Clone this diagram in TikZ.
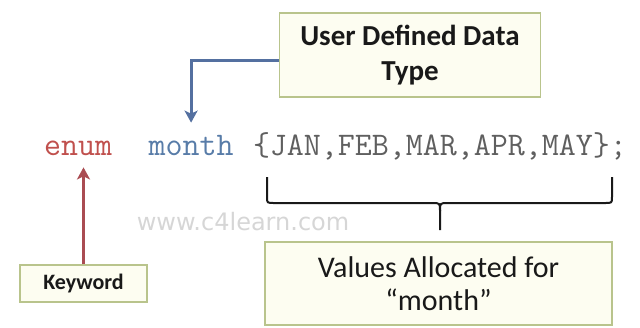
\documentclass[tikz,border=0pt]{standalone}
\usepackage{fontspec}
\setmainfont{Carlito}
\newfontfamily\markfont{DejaVu Sans}
\usetikzlibrary{arrows.meta}

\definecolor{boxline}{RGB}{185,196,140}
\definecolor{boxfill}{RGB}{253,253,241}
\definecolor{kwred}{RGB}{192,80,77}
\definecolor{idblue}{RGB}{88,124,168}
\definecolor{valgrey}{RGB}{95,95,95}
\definecolor{arrblue}{RGB}{84,112,160}
\definecolor{arrred}{RGB}{170,76,82}
\definecolor{markgrey}{RGB}{214,214,214}

\tikzset{
  notebox/.style={draw=boxline, fill=boxfill, line width=1.5pt, align=center,
    inner sep=0pt, text=black!90},
  codetext/.style={inner sep=0pt, anchor=base west,
    font=\ttfamily\fontsize{33}{33}\selectfont},
  pointer/.style={line width=3pt,
    -{Stealth[length=12pt,width=13pt,inset=3pt]}},
  bracepath/.style={line width=2pt, black!90, line join=round}
}

\begin{document}
\begin{tikzpicture}[x=1pt,y=-1pt]
  \useasboundingbox (0,0) rectangle (640,327);

  % the declaration line
  \node[codetext, text=kwred]   (enum)  at (44,155)    {enum};
  \node[codetext, text=idblue]  (month) at (148.4,155) {month};
  \node[codetext, text=valgrey] (vals)  at (252.8,155) {\{JAN,FEB,MAR,APR,MAY\};};

  % call-out boxes
  \node[notebox, minimum width=261pt, minimum height=84pt,
        font=\bfseries\fontsize{29}{35}\selectfont]
        (udt) at (410,55) {User Defined Data\\Type};
  \node[notebox, minimum width=127pt, minimum height=37pt,
        font=\bfseries\fontsize{22}{25}\selectfont]
        (kw) at (83.5,283.5) {Keyword};
  \node[notebox, minimum width=347pt, minimum height=83pt,
        font=\fontsize{30}{33}\selectfont]
        (alloc) at (438.5,283.5) {Values Allocated for\\“month”};

  % watermark
  \node[inner sep=0pt, text=markgrey, font=\markfont\fontsize{24}{24}\selectfont]
        (mark) at (243,222) {www.c4learn.com};

  % pointers
  \draw[pointer, arrblue] ([yshift=-5pt]udt.west) -| ([yshift=12pt]month.north);
  \draw[pointer, arrred] (kw.north) -- ([yshift=-12pt]kw.north |- enum.south);

  % brace under the value list
  \coordinate (bl) at (267,177);
  \coordinate (br) at (612,177);
  \coordinate (tip) at (440,230);
  \draw[bracepath] (bl) -- (267,197) .. controls (267,203) .. (274,203)
        -- (432,203) .. controls (440,203) .. (440,211) -- (tip);
  \draw[bracepath] (br) -- (612,197) .. controls (612,203) .. (605,203)
        -- (448,203) .. controls (440,203) .. (440,211);
\end{tikzpicture}
\end{document}
